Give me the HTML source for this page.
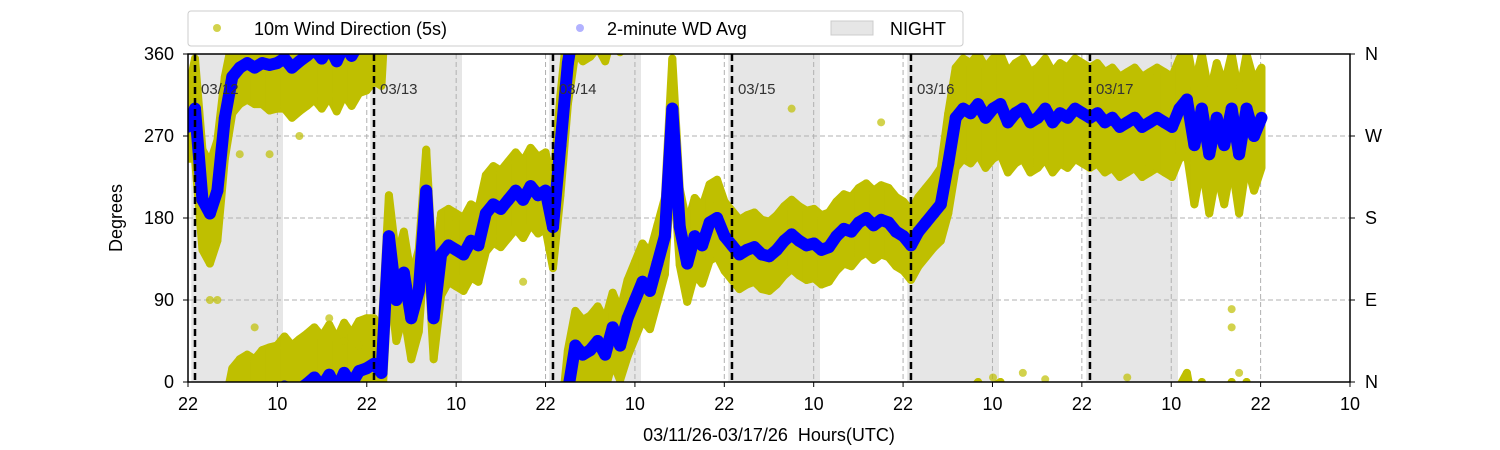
<!DOCTYPE html>
<html><head><meta charset="utf-8"><style>
html,body{margin:0;background:#fff;width:1500px;height:450px;overflow:hidden;}
svg{display:block;font-family:"Liberation Sans","DejaVu Sans",sans-serif;}
</style></head><body>
<svg id="chart" width="1500" height="450">
<g id="legend">
<rect x="188" y="11" width="775" height="35" rx="3" fill="#fff" stroke="#ccc"/>
<circle cx="217" cy="28" r="4" fill="#bfbf00" opacity="0.7"/>
<text x="254" y="35" font-size="18">10m Wind Direction (5s)</text>
<circle cx="580" cy="28" r="4" fill="#0000ff" opacity="0.3"/>
<text x="607" y="35" font-size="18">2-minute WD Avg</text>
<rect x="831" y="21" width="42" height="14" fill="#e6e6e6" stroke="#ccc"/>
<text x="890" y="35" font-size="18">NIGHT</text>
</g>
<g id="plot"></g>
</svg>
<script>
const hours=[];for(let i=-1;i<=143;i++)hours.push(i);
const wdAvg=[280,300,200,185,210,290,335,345,350,345,350,348,350,355,345,352,358,5,355,8,352,10,358,12,15,20,10,160,90,120,70,100,210,70,140,150,145,140,155,150,185,195,190,200,210,200,215,205,210,170,260,350,40,30,35,45,30,60,40,70,90,110,100,130,160,300,170,130,160,150,175,180,160,150,140,145,148,140,138,145,155,162,155,150,152,145,148,160,168,165,175,180,172,178,175,165,160,150,165,175,185,195,240,290,300,295,305,290,300,305,285,295,300,285,290,300,285,295,290,300,295,290,295,285,290,280,285,290,280,285,290,285,280,300,310,260,300,250,290,260,300,250,300,270,290];
const wdSpread=[35,55,55,55,55,45,40,40,40,40,45,50,50,55,55,55,55,55,55,55,55,55,55,55,55,50,45,45,45,45,45,45,45,45,45,40,40,40,40,40,42,42,42,42,42,42,42,42,42,45,55,45,38,38,38,38,38,38,38,42,42,42,42,42,42,55,42,42,42,42,42,42,38,38,38,38,38,38,38,38,38,38,38,38,38,38,38,38,38,38,38,38,38,38,38,38,38,38,38,38,38,40,55,55,55,55,55,55,55,55,55,55,55,55,55,55,55,55,55,55,55,55,55,55,55,55,55,55,55,55,55,55,55,55,60,65,60,65,60,65,60,65,60,60,55];
const outlierHours=[3,8,10,12,14,18,20,22,2,6,36,44,80,92,125,139,139,140,107,111,114];
const outlierVals=[90,60,250,300,270,70,45,40,90,250,100,110,300,285,5,80,60,10,5,10,3];
const xTickLabels=["22","10","22","10","22","10","22","10","22","10","22","10","22","10"];
const yTicks=[0,90,180,270,360];
const compass=["N","E","S","W","N"];
const dayLabels=["03/12","03/13","03/14","03/15","03/16","03/17"];

const NS="http://www.w3.org/2000/svg";
const L=188,R=1350,T=54,B=382;
const X=t=>195+t*7.458;
const Y=v=>B-(v/360)*(B-T);
const plot=document.getElementById('plot');
function mk(tag,a,p){const e=document.createElementNS(NS,tag);for(const k in a)e.setAttribute(k,a[k]);(p||plot).appendChild(e);return e;}
const clipDef=mk('clipPath',{id:'pc'});mk('rect',{x:L,y:T,width:R-L,height:B-T},clipDef);
dayLabels.forEach((d,i)=>{
 const r=mk('rect',{x:X(i*24-0.5),y:T,width:X(12.3)-X(0),height:B-T,fill:'#e6e6e6'});
 
 
});
yTicks.slice(1,4).forEach(v=>{mk('line',{x1:L,x2:R,y1:Y(v),y2:Y(v),stroke:'#b0b0b0','stroke-dasharray':'5,3'});});
xTickLabels.forEach((s,i)=>{const x=L+i*(R-L)/13;mk('line',{x1:x,x2:x,y1:T,y2:B,stroke:'#b0b0b0','stroke-dasharray':'5,3'});});
const data=mk('g',{'clip-path':'url(#pc)'});
function band(t0,v0,s0,t1,v1,s1,off){
 mk('polygon',{points:`${X(t0)},${Y(v0-s0+off)} ${X(t0)},${Y(v0+s0+off)} ${X(t1)},${Y(v1+s1+off)} ${X(t1)},${Y(v1-s1+off)}`,fill:'#bfbf00',stroke:'#bfbf00','stroke-width':8,'stroke-linejoin':'round'},data);
}
for(let i=0;i<hours.length-1;i++){
 const a=wdAvg[i],b=wdAvg[i+1];
 let bb=b;if(Math.abs(a-b)>180)bb=b<a?b+360:b-360;
 [0,360,-360].forEach(o=>band(hours[i],a,wdSpread[i],hours[i+1],bb,wdSpread[i+1],o));
}
outlierHours.forEach((h,i)=>{const c=mk('circle',{cx:X(h),cy:Y(outlierVals[i]),r:4,fill:'#bfbf00',opacity:0.7},data);
 
 });
for(let i=0;i<hours.length-1;i++){
 const a=wdAvg[i],b=wdAvg[i+1];
 let bb=b;if(Math.abs(a-b)>180)bb=b<a?b+360:b-360;
 [0,360,-360].forEach(o=>{mk('line',{x1:X(hours[i]),y1:Y(a+o),x2:X(hours[i+1]),y2:Y(bb+o),stroke:'#0000ff','stroke-width':12,'stroke-linecap':'round'},data);});
}
dayLabels.forEach((d,i)=>{
 const x=X(i*24);
 mk('line',{x1:x,x2:x,y1:T,y2:B,stroke:'#000','stroke-width':2.5,'stroke-dasharray':'7,4'});
 const tx=mk('text',{x:x+6,y:94,'font-size':15,fill:'#333'});tx.textContent=d;
 
 
});
mk('rect',{x:L,y:T,width:R-L,height:B-T,fill:'none',stroke:'#000','stroke-width':1.5});
xTickLabels.forEach((s,i)=>{const x=L+i*(R-L)/13;mk('line',{x1:x,x2:x,y1:B,y2:B+5,stroke:'#000'});
 const t=mk('text',{x:x,y:410,'font-size':18,'text-anchor':'middle'});t.textContent=s;
 
 });
yTicks.forEach((v,i)=>{const y=Y(v);mk('line',{x1:L-5,x2:L,y1:y,y2:y,stroke:'#000'});mk('line',{x1:R,x2:R+5,y1:y,y2:y,stroke:'#000'});
 const t=mk('text',{x:174,y:y+6,'font-size':18,'text-anchor':'end'});t.textContent=v;
 
 
 const c=mk('text',{x:1365,y:y+6,'font-size':18});c.textContent=compass[i];
 
 });
const yl=mk('text',{x:0,y:0,'font-size':18,'text-anchor':'middle',transform:'translate(122,218) rotate(-90)'});yl.textContent='Degrees';


const xl=mk('text',{x:769,y:441,'font-size':18,'text-anchor':'middle'});xl.textContent='03/11/26-03/17/26\u00a0\u00a0Hours(UTC)';


</script>
</body></html>
